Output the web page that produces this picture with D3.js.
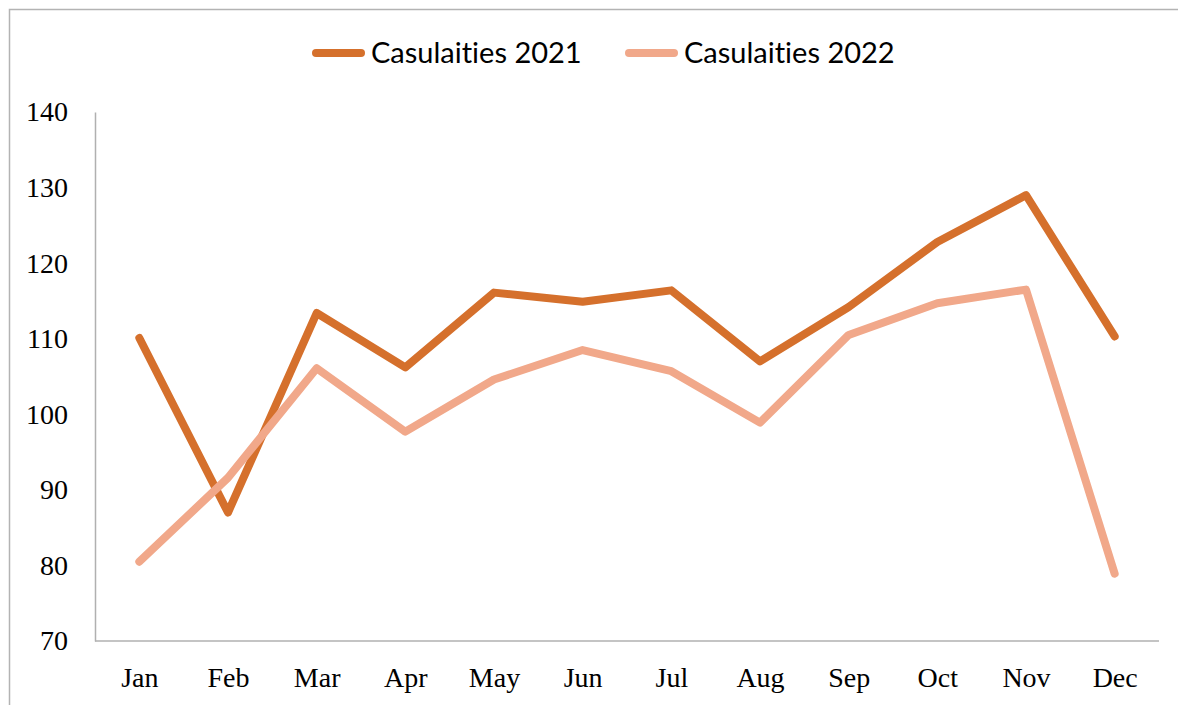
<!DOCTYPE html>
<html>
<head>
<meta charset="utf-8">
<script src="https://cdn.jsdelivr.net/npm/d3@7"></script>
<style>
  html, body { margin: 0; padding: 0; background: #fff; }
  svg { display: block; }
  text { font-variant-ligatures: none; font-feature-settings: "liga" 0; }
</style>
</head>
<body>
<svg id="chart" width="1178" height="705"></svg>
<script>
const months = ["Jan","Feb","Mar","Apr","May","Jun","Jul","Aug","Sep","Oct","Nov","Dec"];
const casualties2021 = [110.1, 87.0, 113.4, 106.2, 116.1, 114.9, 116.4, 107.0, 114.2, 122.8, 129.0, 110.3];
const casualties2022 = [80.5, 91.6, 106.1, 97.7, 104.6, 108.5, 105.7, 98.9, 110.5, 114.7, 116.5, 78.9];
const yTicks = [70, 80, 90, 100, 110, 120, 130, 140];
const seriesNames = ["Casulaities 2021", "Casulaities 2022"];
const seriesColors = ["#d5702c", "#f1a88a"];

const svg = d3.select("#chart");
const W = 1178, H = 705;
const plot = { left: 95, right: 1159, top: 112, bottom: 641 };

// outer border
svg.append("rect")
  .attr("x", 9.5).attr("y", 9.5)
  .attr("width", W + 20).attr("height", H + 20)
  .attr("fill", "#fff").attr("stroke", "#b3b3b3").attr("stroke-width", 1.5);

const x = d3.scalePoint().domain(months).range([plot.left, plot.right]).padding(0.5);
const y = d3.scaleLinear().domain([70, 140]).range([plot.bottom, plot.top]);

// y axis
const yAxis = svg.append("g")
  .attr("transform", `translate(${plot.left},0)`)
  .call(d3.axisLeft(y).tickValues(yTicks).tickSize(0).tickPadding(27).tickFormat(d3.format("d")));
yAxis.select(".domain").attr("stroke", "#b0b0b0").attr("stroke-width", 1.5);
yAxis.selectAll("text")
  .attr("font-family", "'Liberation Serif', serif")
  .attr("font-size", 28).attr("fill", "#000");

// x axis
const xAxis = svg.append("g")
  .attr("transform", `translate(0,${plot.bottom})`)
  .call(d3.axisBottom(x).tickSize(0).tickPadding(26));
xAxis.select(".domain").attr("stroke", "#b0b0b0").attr("stroke-width", 1.5)
  .attr("d", `M${plot.left},0H${plot.right}`);
xAxis.selectAll("text")
  .attr("font-family", "'Liberation Serif', serif")
  .attr("font-size", 28).attr("fill", "#000");

// lines
const line = d3.line().x((d, i) => x(months[i])).y(d => y(d));
[casualties2021, casualties2022].forEach((data, k) => {
  svg.append("path")
    .datum(data)
    .attr("d", line)
    .attr("fill", "none")
    .attr("stroke", seriesColors[k])
    .attr("stroke-width", 8)
    .attr("stroke-linejoin", "round")
    .attr("stroke-linecap", "round");
});

// legend
const legendX = [312, 625];
seriesNames.forEach((name, k) => {
  const g = svg.append("g");
  g.append("line")
    .attr("x1", legendX[k] + 4).attr("x2", legendX[k] + 49)
    .attr("y1", 53).attr("y2", 53)
    .attr("stroke", seriesColors[k]).attr("stroke-width", 8)
    .attr("stroke-linecap", "round");
  g.append("text")
    .attr("x", legendX[k] + 59).attr("y", 63)
    .attr("font-family", "Lato, 'Open Sans', sans-serif")
    .attr("font-size", 29).attr("fill", "#000")
    .text(name);
});
</script>
</body>
</html>
